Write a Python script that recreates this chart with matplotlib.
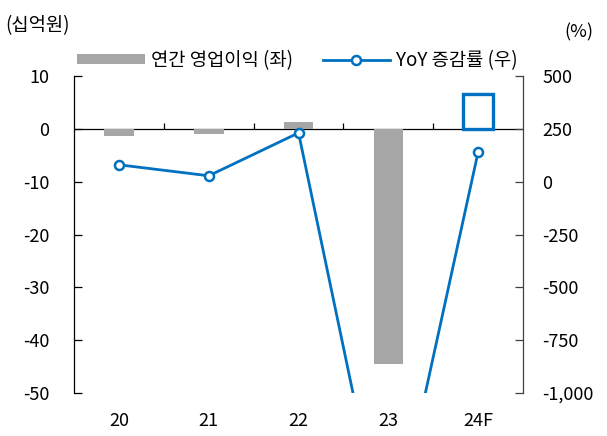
import matplotlib.pyplot as plt
import matplotlib.ticker as mticker
import numpy as np

plt.rcParams['font.family'] = ['Noto Sans CJK KR', 'DejaVu Sans']
plt.rcParams['axes.unicode_minus'] = False

# data
years = ['20', '21', '22', '23', '24F']
op_profit = [-1.3, -0.9, 1.3, -44.5, 6.6]   # 십억원
yoy = [80, 28, 231, -1800, 141]             # %

gray = '#A6A6A6'
blue = '#0070C0'
fs = 13

fig = plt.figure(figsize=(6.07, 4.36), dpi=100)
ax = fig.add_axes([0.122, 0.0986, 0.7397, 0.727])
ax2 = ax.twinx()

x = np.arange(len(years))
colors = [gray] * 4 + ['white']
edges = [gray] * 4 + [blue]
lws = [0, 0, 0, 0, 2.4]
bars = ax.bar(x, op_profit, width=0.33, color=colors, edgecolor=edges, linewidth=lws,
              zorder=3, label='연간 영업이익 (좌)')

ax.axhline(0, color='black', linewidth=0.9, zorder=2)
bounds = np.arange(len(years) - 1) + 0.5
ax.vlines(bounds, 0, 1.2, color='black', linewidth=0.9, zorder=2)

ax2.plot(x, yoy, color=blue, linewidth=2, marker='o', markersize=6.5,
         markerfacecolor='white', markeredgecolor=blue, markeredgewidth=1.8,
         label='YoY 증감률 (우)', zorder=4)

ax.set_xlim(-0.5, len(years) - 0.5)
ax.set_ylim(-50, 10)
ax.set_yticks(np.arange(-50, 11, 10))
ax2.set_ylim(-1000, 500)
ax2.set_yticks(np.arange(-1000, 501, 250))
ax2.yaxis.set_major_formatter(mticker.FuncFormatter(lambda v, p: f'{v:,.0f}'))

ax.set_xticks(x)
ax.set_xticklabels(years)
ax.tick_params(axis='x', length=0, pad=14, labelsize=fs)
ax.tick_params(axis='y', direction='in', length=6, width=0.9, labelsize=fs, pad=18)
ax2.tick_params(axis='y', direction='in', length=6, width=0.9, labelsize=fs, pad=14,
                color='#404040')

for a in (ax, ax2):
    a.spines['top'].set_visible(False)
    a.spines['bottom'].set_visible(False)
    a.spines['left'].set_linewidth(0.9)
    a.spines['right'].set_linewidth(0.9)
ax.spines['right'].set_visible(False)
ax2.spines['left'].set_visible(False)
ax2.spines['right'].set_color('#404040')

fig.text(0.008, 0.942, '(십억원)', fontsize=13.5, va='center', ha='left')
fig.text(0.977, 0.926, '(%)', fontsize=fs, va='center', ha='right')

h2, l2 = ax2.get_legend_handles_labels()
leg = fig.legend([bars[0], h2[0]], ['연간 영업이익 (좌)', l2[0]], ncol=2, frameon=False,
                 loc='center', bbox_to_anchor=(0.49, 0.862), fontsize=13.5,
                 handlelength=3.6, handleheight=0.45, columnspacing=1.6, handletextpad=0.3)

fig.savefig('out.png', dpi=100)
